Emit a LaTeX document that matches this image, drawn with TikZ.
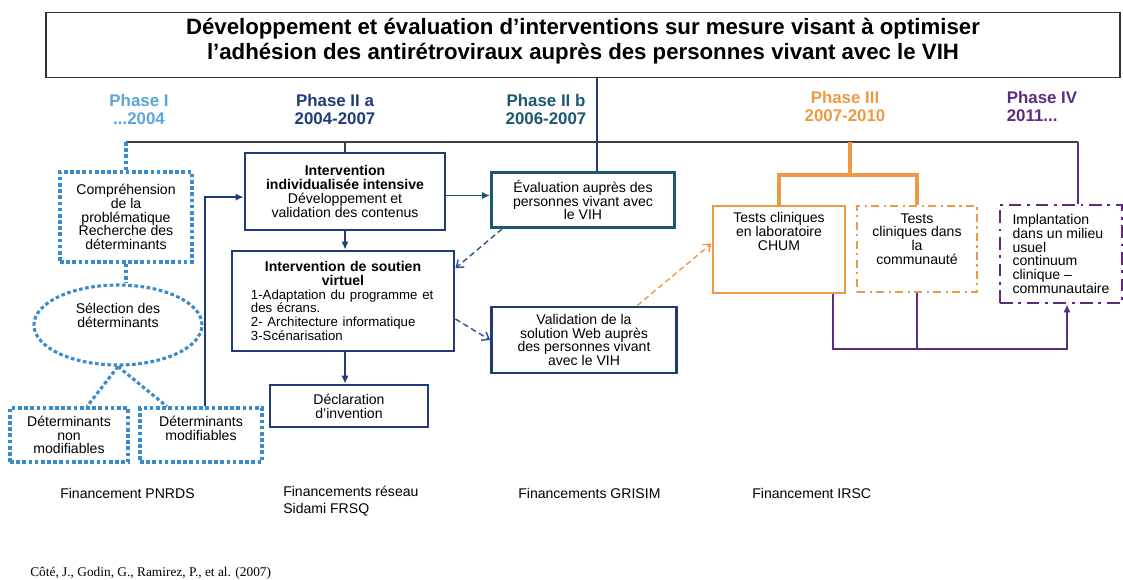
\documentclass[tikz,border=0pt]{standalone}
\usepackage{fontspec}
\setmainfont{Liberation Sans}
\newfontfamily\citefont{Liberation Serif}
\usetikzlibrary{arrows.meta,shapes.geometric}

\definecolor{phaseone}{HTML}{3A8BCB}
\definecolor{phaseonetxt}{HTML}{5AA5DA}
\definecolor{navyblue}{HTML}{1F3C78}
\definecolor{tealblue}{HTML}{1C5872}
\definecolor{orangeiii}{HTML}{EE9A45}
\definecolor{purpleiv}{HTML}{5C2D7E}

% extra depth under the last line, pushes the text up in its box
\newcommand{\lowpad}[1]{\rule[-#1]{0pt}{#1}}

\begin{document}
\begin{tikzpicture}[
  x=0.025cm, y=-0.025cm,
  font=\fontsize{10}{9.8}\selectfont,
  box/.style={draw, line width=2pt, align=center, inner sep=2pt},
  navybox/.style={box, draw=navyblue},
  tealbox/.style={box, draw=tealblue},
  dotbox/.style={box, draw=phaseone, line width=2.2pt, dash pattern=on 2.6pt off 1.8pt},
  phase/.style={font=\fontsize{12}{12.8}\selectfont\bfseries, align=center},
  fund/.style={inner sep=0pt, anchor=west, align=left, font=\fontsize{10}{12}\selectfont},
  line/.style={draw=black!75, line width=1pt},
  dotline/.style={draw=phaseone, line width=2.2pt, dash pattern=on 2.6pt off 1.8pt},
  ar/.style={-{Latex[length=2mm,width=1.8mm]}, line width=1pt},
  dar/.style={-{Straight Barb[length=1.6mm,width=2.4mm]}, line width=1pt,
              dash pattern=on 4pt off 2.5pt, draw=navyblue!70!phaseone},
  oline/.style={draw=orangeiii, line width=2.2pt},
  pline/.style={draw=purpleiv, line width=1.3pt},
]
\useasboundingbox (0,0) rectangle (1123,579);

\node[draw=black!80, line width=1pt, minimum width=26.85cm, minimum height=1.625cm,
      align=center, inner sep=1pt, font=\fontsize{15.8}{17.7}\selectfont\bfseries] (title) at (583,45)
  {Développement et évaluation d’interventions sur mesure visant à optimiser\\
   l’adhésion des antirétroviraux auprès des personnes vivant avec le VIH\lowpad{0.3cm}};

% phases
\node[phase, text=phaseonetxt] (ph1) at (139,109) {Phase I\\...2004};
\node[phase, text=navyblue] (ph2a) at (335,109) {Phase II a\\2004-2007};
\node[phase, text=tealblue] (ph2b) at (546,109) {Phase II b\\2006-2007};
\node[phase, text=orangeiii] (ph3) at (845,106) {Phase III\\2007-2010};
\node[phase, text=purpleiv, align=left] (ph4) at (1042,106) {Phase IV\\2011...};

\coordinate (tl) at (126,142);
\coordinate (tr) at (1078,142);

% phase I
\node[dotbox, minimum width=3.3cm, minimum height=2.25cm] (comp) at (126,217)
  {Compréhension\\de la\\problématique\\Recherche des\\déterminants};
\node[dotbox, ellipse, inner sep=0pt, minimum width=4.2cm, minimum height=2cm] (sel) at (118,325)
  {Sélection des\\déterminants\lowpad{0.5cm}};
\node[dotbox, minimum width=2.95cm, minimum height=1.35cm] (nonmod) at (69,435)
  {Déterminants\\non\\modifiables};
\node[dotbox, minimum width=3.05cm, minimum height=1.35cm] (mod) at (201,435)
  {Déterminants\\modifiables\lowpad{0.35cm}};

% phase II
\node[navybox, minimum width=5cm, minimum height=1.925cm] (indiv) at (345,191.5)
  {\textbf{Intervention}\\\textbf{individualisée intensive}\\Développement et\\validation des contenus};
\node[navybox, minimum width=5.55cm, minimum height=2.5cm, text width=4.6cm, align=left] (soutien) at (343,301)
  {{\centering\bfseries Intervention de soutien\\virtuel\par}
   {\fontsize{9.4}{9.8}\selectfont 1-Adaptation du programme et\\des écrans.\\2- Architecture informatique\\3-Scénarisation}};
\node[navybox, minimum width=3.95cm, minimum height=1.05cm] (decl) at (349,406)
  {Déclaration\\d’invention};
\node[tealbox, minimum width=4.575cm, minimum height=1.375cm] (eval) at (583,200)
  {Évaluation auprès des\\personnes vivant avec\\le VIH};
\node[navybox, minimum width=4.625cm, minimum height=1.65cm] (valid) at (584,340)
  {Validation de la\\solution Web auprès\\des personnes vivant\\avec le VIH};

% phases III and IV
\node[box, draw=orangeiii, minimum width=3.3cm, minimum height=2.175cm] (chum) at (779,249.5)
  {Tests cliniques\\en laboratoire\\CHUM\lowpad{0.9cm}};
\node[box, draw=orangeiii, dash pattern=on 6pt off 3pt on 1.5pt off 3pt,
      minimum width=3cm, minimum height=2.15cm] (comm) at (917,249)
  {Tests\\cliniques dans\\la\\communauté\lowpad{0.5cm}};
\node[box, draw=purpleiv, dash pattern=on 9pt off 4pt on 2pt off 4pt,
      minimum width=3.05cm, minimum height=2.45cm, align=left] (impl) at (1061,254)
  {Implantation\\dans un milieu\\usuel\\continuum\\clinique –\\communautaire};

% funding
\node[fund] (fpnrds) at (60,493) {Financement PNRDS};
\node[fund] (ffrsq) at (283,501.5) {Financements réseau\\Sidami FRSQ};
\node[fund] (fgrisim) at (518,493) {Financements GRISIM};
\node[fund] (firsc) at (752,493) {Financement IRSC};
\node[inner sep=0pt, anchor=west, font=\citefont\fontsize{9.5}{11}\selectfont] (cite) at (30,573)
  {Côté, J., Godin, G., Ramirez, P., et al. (2007)};

% connectors
\draw[line] (tl) -- (tr);
\draw[line, draw=navyblue] ([xshift=0.35cm]title.south) -- ([xshift=0.35cm]eval.north);
\draw[dotline] (tl) -- (comp.north);
\draw[dotline] (comp.south) -- (comp.south |- sel.north);
\draw[dotline] (sel.south) -- ([xshift=0.45cm]nonmod.north);
\draw[dotline] (sel.south) -- ([xshift=-0.85cm]mod.north);
\draw[ar, navyblue] ([xshift=0.1cm]mod.north) |- ([yshift=-0.14cm]indiv.west);
\draw[line] (indiv.north |- tl) -- (indiv.north);
\draw[ar, navyblue] (indiv.south) -- (indiv.south |- soutien.north);
\draw[ar, navyblue] (indiv.south |- soutien.south) -- (indiv.south |- decl.north);
\draw[ar, tealblue] ([yshift=-0.1cm]indiv.east) -- ([yshift=-0.1cm]indiv.east -| eval.west);
\draw[dar] ([xshift=0.3cm]eval.south west) -- ([yshift=0.82cm]soutien.east);
\draw[dar] ([yshift=-0.45cm]soutien.east) -- (valid.west);
\draw[dar, draw=orangeiii] ([xshift=1.33cm]valid.north) -- ([yshift=0.15cm]chum.west);

\coordinate (ojoin) at (850,175);
\draw[oline] (ojoin |- tl) -- (ojoin);
\draw[oline] (chum.north) |- (ojoin) -| (comm.north);

\coordinate (pjoin) at (924,349);
\draw[pline, line width=1.6pt] (tr) -- (tr |- impl.north);
\draw[pline] (comm.south) -- (comm.south |- pjoin);
\draw[pline, ar] ([xshift=1.35cm]chum.south) |- (pjoin) -| ([xshift=0.15cm]impl.south);
\end{tikzpicture}
\end{document}
